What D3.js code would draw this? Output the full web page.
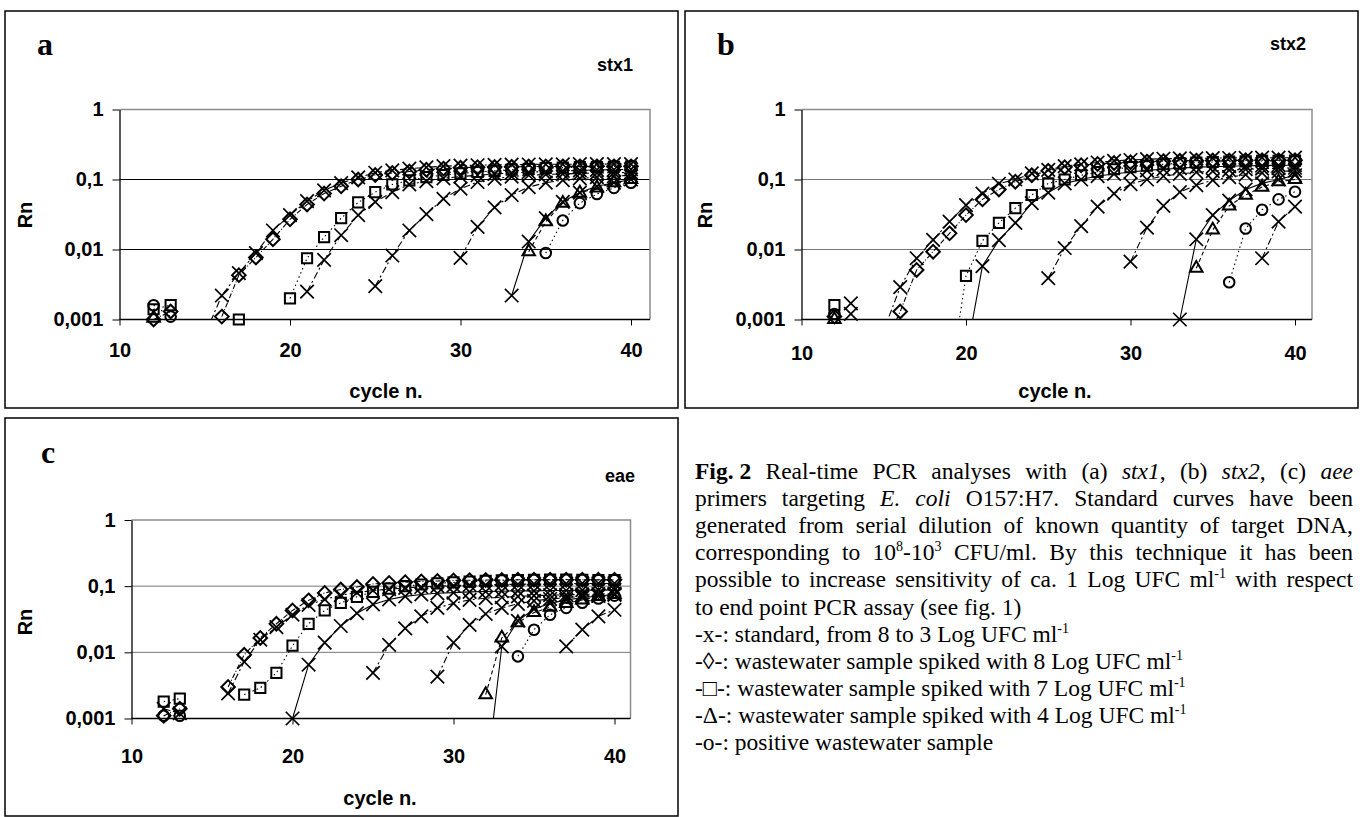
<!DOCTYPE html>
<html>
<head>
<meta charset="utf-8">
<script src="https://cdnjs.cloudflare.com/ajax/libs/d3/7.8.5/d3.min.js"></script>
<style>
  body { margin: 0; background: #fff; }
  svg { display: block; }
</style>
</head>
<body>
<svg width="1362" height="817"></svg>
<script>
const _ = null;

// cycle numbers (x categories), 11 .. 40
const cycles = [11, 12, 13, 14, 15, 16, 17, 18, 19, 20, 21, 22, 23, 24, 25, 26, 27, 28, 29, 30,
                31, 32, 33, 34, 35, 36, 37, 38, 39, 40];

const xTicks = [10, 20, 30, 40];
const yTicks = [0.001, 0.01, 0.1, 1];
const yTickLabels = ['0,001', '0,01', '0,1', '1'];

// ---- panel a : stx1 ----
//               c11 c12     c13     c14 c15     c16     c17     c18     c19     c20    c21    c22    c23    c24    c25    c26    c27    c28    c29    c30    c31   c32    c33    c34    c35    c36    c37    c38    c39    c40
const aStd8  = [_,  _,      _,      _,  0.0006, 0.0022, 0.0046, 0.0089, 0.0187, 0.031, 0.049, 0.07,  0.089, 0.107, 0.125, 0.135, 0.143, 0.149, 0.155, 0.158, 0.16, 0.162, 0.163, 0.164, 0.165, 0.165, 0.166, 0.166, 0.166, 0.166];
const aStd7  = [_,  _,      _,      _,  _,      _,      _,      _,      _,      _,     0.0025,0.0071,0.016, 0.031, 0.048, 0.066, 0.085, 0.095, 0.104, 0.11,  0.115,0.12,  0.124, 0.127, 0.13,  0.133, 0.135, 0.137, 0.138, 0.14];
const aStd6  = [_,  _,      _,      _,  _,      _,      _,      _,      _,      _,     _,     _,     _,     _,     0.003, 0.0082,0.0187,0.032, 0.053, 0.074, 0.092,0.103, 0.11,  0.115, 0.118, 0.12,  0.122, 0.124, 0.125, 0.126];
const aStd5  = [_,  _,      _,      _,  _,      _,      _,      _,      _,      _,     _,     _,     _,     _,     _,     _,     _,     _,     _,     0.0076,0.021,0.04,  0.06,  0.078, 0.09,  0.098, 0.104, 0.108, 0.112, 0.115];
const aStd4  = [_,  _,      _,      _,  _,      _,      _,      _,      _,      _,     _,     _,     _,     _,     _,     _,     _,     _,     _,     _,     _,    _,     0.0022,0.013, 0.028, 0.048, 0.065, 0.08,  0.09,  0.1];
const aDiam8 = [_,  0.001,  0.0013, _,  _,      0.0011, 0.0043, 0.0077, 0.014,  0.027, 0.044, 0.063, 0.08,  0.1,   0.116, 0.124, 0.13,  0.138, 0.143, 0.147, 0.15, 0.151, 0.152, 0.153, 0.153, 0.154, 0.154, 0.154, 0.154, 0.154];
const aSq7   = [_,  0.0014, 0.0016, _,  _,      _,      0.001,  _,      _,      0.002, 0.0075,0.015, 0.028, 0.047, 0.066, 0.085, 0.097, 0.108, 0.116, 0.122, 0.128,0.133, 0.138, 0.142, 0.146, 0.148, 0.15,  0.151, 0.152, 0.153];
const aTri4  = [_,  0.00105,_,      _,  _,      _,      _,      _,      _,      _,     _,     _,     _,     _,     _,     _,     _,     _,     _,     _,     _,    _,     _,     0.0093,0.025, 0.046, 0.064, 0.076, 0.09,  0.1];
const aCirc  = [_,  0.0016, 0.0011, _,  _,      _,      _,      _,      _,      _,     _,     _,     _,     _,     _,     _,     _,     _,     _,     _,     _,    _,     _,     _,     0.0089,0.026, 0.046, 0.062, 0.076, 0.09];

// ---- panel b : stx2 ----
const bStd8  = [_,  _,      0.0012, _,  0.0007, 0.0029, 0.0075, 0.0137, 0.025,  0.043, 0.063, 0.087, 0.1,   0.122, 0.137, 0.155, 0.165, 0.175, 0.185, 0.19,  0.195,0.198, 0.2,   0.201, 0.202, 0.203, 0.204, 0.205, 0.205, 0.205];
const bStd7  = [_,  _,      0.0017, _,  _,      _,      _,      _,      _,      0.0003,0.0058,0.0136,0.024, 0.046, 0.065, 0.088, 0.1,   0.112, 0.12,  0.128, 0.135,0.14,  0.145, 0.15,  0.152, 0.155, 0.157, 0.158, 0.16,  0.16];
const bStd6  = [_,  _,      _,      _,  _,      _,      _,      _,      _,      _,     _,     _,     _,     _,     0.0039,0.0105,0.0216,0.041, 0.063, 0.086, 0.1,  0.112, 0.12,  0.127, 0.132, 0.136, 0.14,  0.143, 0.145, 0.147];
const bStd5  = [_,  _,      _,      _,  _,      _,      _,      _,      _,      _,     _,     _,     _,     _,     _,     _,     _,     _,     _,     0.0067,0.0205,0.042,0.066, 0.083, 0.098, 0.108, 0.117, 0.124, 0.13,  0.134];
const bStd4  = [_,  _,      _,      _,  _,      _,      _,      _,      _,      _,     _,     _,     _,     _,     _,     _,     _,     _,     _,     _,     _,    _,     0.001, 0.014, 0.031, 0.05,  0.072, 0.088, 0.1,   0.115];
const bStd3  = [_,  _,      _,      _,  _,      _,      _,      _,      _,      _,     _,     _,     _,     _,     _,     _,     _,     _,     _,     _,     _,    _,     _,     _,     _,     _,     _,     0.0075,0.025, 0.041];
const bDiam8 = [_,  0.0011, _,      _,  0.0004, 0.0013, 0.0051, 0.0093, 0.017,  0.031, 0.052, 0.072, 0.093, 0.115, 0.133, 0.15,  0.16,  0.167, 0.172, 0.176, 0.18, 0.183, 0.185, 0.186, 0.187, 0.187, 0.188, 0.188, 0.188, 0.188];
const bSq7   = [_,  0.0016, _,      _,  _,      _,      _,      _,      0.00012,0.0042,0.0133,0.024, 0.039, 0.06,  0.088, 0.1,   0.115, 0.128, 0.14,  0.15,  0.158,0.165, 0.17,  0.175, 0.178, 0.18,  0.182, 0.184, 0.185, 0.186];
const bTri4  = [_,  0.001,  _,      _,  _,      _,      _,      _,      _,      _,     _,     _,     _,     _,     _,     _,     _,     _,     _,     _,     _,    _,     _,     0.0054,0.019, 0.042, 0.06,  0.078, 0.093, 0.1];
const bCirc  = [_,  0.0012, _,      _,  _,      _,      _,      _,      _,      _,     _,     _,     _,     _,     _,     _,     _,     _,     _,     _,     _,    _,     _,     _,     _,     0.0034,0.02,  0.037, 0.052, 0.067];

// ---- panel c : eae ----
const cStd8  = [_,  0.0014, 0.0012, _,  _,      0.0024, 0.0072, 0.0155, 0.024,  0.037, 0.052, 0.063, 0.073, 0.08,  0.086, 0.09,  0.094, 0.097, 0.1,   0.102, 0.104,0.105, 0.106, 0.107, 0.108, 0.108, 0.109, 0.11,  0.11,  0.11];
const cStd7  = [_,  _,      _,      _,  _,      _,      _,      _,      _,      0.001, 0.0065,0.014, 0.025, 0.039, 0.053, 0.063, 0.07,  0.075, 0.078, 0.08,  0.082,0.083, 0.084, 0.085, 0.085, 0.086, 0.086, 0.087, 0.087, 0.088];
const cStd6  = [_,  _,      _,      _,  _,      _,      _,      _,      _,      _,     _,     _,     _,     _,     0.0049,0.013, 0.023, 0.035, 0.047, 0.055, 0.062,0.066, 0.068, 0.07,  0.072, 0.073, 0.074, 0.075, 0.076, 0.077];
const cStd5  = [_,  _,      _,      _,  _,      _,      _,      _,      _,      _,     _,     _,     _,     _,     _,     _,     _,     _,     0.0043,0.014, 0.026,0.038, 0.047, 0.054, 0.06,  0.064, 0.067, 0.07,  0.072, 0.074];
const cStd4  = [_,  _,      _,      _,  _,      _,      _,      _,      _,      _,     _,     _,     _,     _,     _,     _,     _,     _,     _,     _,     _,    0.0001,0.0123,0.03,  0.045, 0.055, 0.062, 0.067, 0.071, 0.075];
const cStd3  = [_,  _,      _,      _,  _,      _,      _,      _,      _,      _,     _,     _,     _,     _,     _,     _,     _,     _,     _,     _,     _,    _,     _,     _,     _,     _,     0.0123,0.022, 0.035, 0.044];
const cDiam8 = [_,  0.0011, 0.0014, _,  _,      0.003,  0.0092, 0.0165, 0.027,  0.043, 0.061, 0.079, 0.089, 0.097, 0.108, 0.112, 0.115, 0.118, 0.12,  0.122, 0.123,0.124, 0.124, 0.125, 0.125, 0.125, 0.125, 0.125, 0.125, 0.125];
const cSq7   = [_,  0.0018, 0.002,  _,  _,      _,      0.0023, 0.0029, 0.0049, 0.0126,0.027, 0.043, 0.056, 0.069, 0.082, 0.092, 0.1,   0.106, 0.11,  0.114, 0.117,0.12,  0.123, 0.124, 0.125, 0.126, 0.126, 0.125, 0.124, 0.124];
const cTri4  = [_,  _,      _,      _,  _,      _,      _,      _,      _,      _,     _,     _,     _,     _,     _,     _,     _,     _,     _,     _,     _,    0.0023,0.0165,0.028, 0.04,  0.048, 0.055, 0.062, 0.07,  0.075];
const cCirc  = [_,  0.0011, 0.0011, _,  _,      _,      _,      _,      _,      _,     _,     _,     _,     _,     _,     _,     _,     _,     _,     _,     _,    _,     _,     0.0087,0.022, 0.037, 0.047, 0.056, 0.065, 0.072];

const captionLines = [
  { justify: true, text: '**Fig.\u00a02** Real-time PCR analyses with (a) *stx1*, (b) *stx2*, (c) *aee*' },
  { justify: true, text: 'primers targeting *E.* *coli* O157:H7. Standard curves have been' },
  { justify: true, text: 'generated from serial dilution of known quantity of target DNA,' },
  { justify: true, text: 'corresponding to 10^8^-10^3^ CFU/ml. By this technique it has been' },
  { justify: true, text: 'possible to increase sensitivity of ca. 1 Log UFC ml^-1^ with respect' },
  { justify: false, text: 'to end point PCR assay (see fig. 1)' },
  { justify: false, text: '-x-: standard, from 8 to 3 Log UFC ml^-1^' },
  { justify: false, text: '-\u25CA-: wastewater sample spiked with 8 Log UFC ml^-1^' },
  { justify: false, text: '-\u25A1-: wastewater sample spiked with 7 Log UFC ml^-1^' },
  { justify: false, text: '-\u0394-: wastewater sample spiked with 4 Log UFC ml^-1^' },
  { justify: false, text: '-o-: positive wastewater sample' }
];

// ---- styles ----
const SANS = '"Liberation Sans", Arial, Helvetica, sans-serif';
const SERIF = '"Liberation Serif", "Times New Roman", Times, serif';
const DASH_STD = '7,3,2,3';
const DASH_DIA = '5,2,1,2';
const DASH_SQ = '1.5,3';
const DASH_TRI = '4,3';
const DASH_CIR = '1.5,3';

const markers = {
  x:   d3.symbol(d3.symbolX, 120),
  dia: d3.symbol(d3.symbolDiamond2, 118),
  sq:  d3.symbol(d3.symbolSquare2, 132),
  tri: d3.symbol(d3.symbolTriangle2, 112),
  cir: d3.symbol(d3.symbolCircle, 88)
};

const panels = [
  { key: 'a', gene: 'stx1', frame: [5, 11, 673, 397],
    x10: 119.5, x40: 631, right: 650, top: 109.5, bottom: 319.5, grid: '#000',
    xLabBase: 37.5, cycleX: 386, cycleY: 398, rnX: 25, rnY: 215,
    letterX: 37, letterY: 55, geneX: 633, geneY: 71,
    series: [
      { v: aStd8, m: 'x', dash: DASH_STD }, { v: aStd7, m: 'x', dash: DASH_STD },
      { v: aStd6, m: 'x', dash: DASH_STD }, { v: aStd5, m: 'x', dash: DASH_STD },
      { v: aStd4, m: 'x', dash: null },
      { v: aDiam8, m: 'dia', dash: DASH_DIA }, { v: aSq7, m: 'sq', dash: DASH_SQ },
      { v: aTri4, m: 'tri', dash: DASH_TRI }, { v: aCirc, m: 'cir', dash: DASH_CIR }
    ] },
  { key: 'b', gene: 'stx2', frame: [685, 11, 673, 397],
    x10: 801.5, x40: 1295, right: 1312, top: 109.5, bottom: 319.5, grid: '#777',
    xLabBase: 40.5, cycleX: 1055, cycleY: 398, rnX: 705, rnY: 215,
    letterX: 717, letterY: 55, geneX: 1306, geneY: 50,
    series: [
      { v: bStd8, m: 'x', dash: DASH_STD }, { v: bStd7, m: 'x', dash: null },
      { v: bStd6, m: 'x', dash: DASH_STD }, { v: bStd5, m: 'x', dash: DASH_STD },
      { v: bStd4, m: 'x', dash: null }, { v: bStd3, m: 'x', dash: DASH_STD },
      { v: bDiam8, m: 'dia', dash: DASH_DIA }, { v: bSq7, m: 'sq', dash: DASH_SQ },
      { v: bTri4, m: 'tri', dash: DASH_TRI }, { v: bCirc, m: 'cir', dash: DASH_CIR }
    ] },
  { key: 'c', gene: 'eae', frame: [5, 418, 673, 398],
    x10: 131.5, x40: 614.5, right: 630.5, top: 520, bottom: 718.5, grid: '#777',
    xLabBase: 44.5, cycleX: 380, cycleY: 805, rnX: 25, rnY: 622,
    letterX: 41, letterY: 463, geneX: 635, geneY: 482,
    series: [
      { v: cStd8, m: 'x', dash: DASH_STD }, { v: cStd7, m: 'x', dash: null },
      { v: cStd6, m: 'x', dash: DASH_STD }, { v: cStd5, m: 'x', dash: DASH_STD },
      { v: cStd4, m: 'x', dash: null }, { v: cStd3, m: 'x', dash: DASH_STD },
      { v: cDiam8, m: 'dia', dash: DASH_DIA }, { v: cSq7, m: 'sq', dash: DASH_SQ },
      { v: cTri4, m: 'tri', dash: DASH_TRI }, { v: cCirc, m: 'cir', dash: DASH_CIR }
    ] }
];

const svg = d3.select('svg');
const defs = svg.append('defs');

panels.forEach(p => {
  const g = svg.append('g').attr('class', 'panel-' + p.key);
  const x = d3.scaleLinear().domain([10, 40]).range([p.x10, p.x40]);
  const y = d3.scaleLog().domain([0.001, 1]).range([p.bottom, p.top]);

  // outer frame
  g.append('rect')
    .attr('x', p.frame[0]).attr('y', p.frame[1])
    .attr('width', p.frame[2]).attr('height', p.frame[3])
    .attr('fill', 'none').attr('stroke', '#000').attr('stroke-width', 1.5);

  // gridlines
  g.selectAll('.grid').data([0.01, 0.1]).join('line')
    .attr('x1', p.x10).attr('x2', p.right)
    .attr('y1', d => y(d)).attr('y2', d => y(d))
    .attr('stroke', p.grid).attr('stroke-width', 1);

  // plot border (top and right)
  g.append('path')
    .attr('d', `M${p.x10},${y(1)}H${p.right}V${y(0.001)}`)
    .attr('fill', 'none').attr('stroke', '#8c8c8c').attr('stroke-width', 1.5);

  // y axis
  const ya = g.append('g')
    .attr('transform', `translate(${p.x10},0)`)
    .call(d3.axisLeft(y).tickValues(yTicks).tickFormat((d, i) => yTickLabels[i])
      .tickSize(7).tickSizeOuter(0).tickPadding(9));
  ya.attr('font-size', 20).attr('font-family', SANS).attr('font-weight', 'bold');
  ya.select('.domain').attr('stroke-width', 1.3);

  // x axis
  const xa = g.append('g')
    .attr('transform', `translate(0,${p.bottom})`)
    .call(d3.axisBottom(x).tickValues(xTicks).tickFormat(d3.format('d'))
      .tickSize(6).tickPadding(p.xLabBase - 6 - 14.2));
  xa.attr('font-size', 20).attr('font-family', SANS).attr('font-weight', 'bold');
  xa.select('.domain').remove();
  g.append('line')
    .attr('x1', p.x10).attr('x2', p.right)
    .attr('y1', p.bottom).attr('y2', p.bottom)
    .attr('stroke', '#000').attr('stroke-width', 1.3);

  // axis titles
  g.append('text')
    .attr('x', p.cycleX).attr('y', p.cycleY)
    .attr('text-anchor', 'middle')
    .attr('font-family', SANS).attr('font-weight', 'bold').attr('font-size', 20)
    .text('cycle n.');
  g.append('text')
    .attr('transform', `translate(${p.rnX},${p.rnY}) rotate(-90)`)
    .attr('text-anchor', 'middle').attr('dy', '0.35em')
    .attr('font-family', SANS).attr('font-weight', 'bold').attr('font-size', 20)
    .text('Rn');

  // panel letter and gene name
  g.append('text')
    .attr('x', p.letterX).attr('y', p.letterY)
    .attr('font-family', SERIF).attr('font-weight', 'bold').attr('font-size', 32)
    .text(p.key);
  g.append('text')
    .attr('x', p.geneX).attr('y', p.geneY)
    .attr('text-anchor', 'end')
    .attr('font-family', SANS).attr('font-weight', 'bold').attr('font-size', 18)
    .text(p.gene);

  // series lines, clipped to plot area
  const clipId = 'clip-' + p.key;
  defs.append('clipPath').attr('id', clipId)
    .append('rect')
      .attr('x', p.x10).attr('y', p.top)
      .attr('width', p.right - p.x10).attr('height', p.bottom - p.top);

  const line = d3.line()
    .defined(d => d[1] != null)
    .x(d => x(d[0]))
    .y(d => y(d[1]));

  const lineG = g.append('g').attr('clip-path', `url(#${clipId})`);
  p.series.forEach(s => {
    const pts = cycles.map((c, i) => [c, s.v[i]]);
    lineG.append('path')
      .attr('d', line(pts))
      .attr('fill', 'none')
      .attr('stroke', '#000')
      .attr('stroke-width', 1.1)
      .attr('stroke-dasharray', s.dash);
  });

  // markers
  const markG = g.append('g');
  p.series.forEach(s => {
    const pts = cycles.map((c, i) => [c, s.v[i]]).filter(d => d[1] != null && d[1] >= 0.00099);
    markG.selectAll(null).data(pts).join('path')
      .attr('transform', d => `translate(${x(d[0])},${y(d[1])})`)
      .attr('d', markers[s.m]())
      .attr('fill', 'none')
      .attr('stroke', '#000')
      .attr('stroke-width', s.m === 'x' ? 1.7 : 2);
  });
});

// ---- caption (justified paragraph + legend) ----
const capLeft = 695, capRight = 1353, capBase0 = 479, capStep = 27.1, capSize = 23.5;
const cap = svg.append('g')
  .attr('font-family', SERIF)
  .attr('font-size', capSize)
  .attr('fill', '#000');
const segRe = /\*\*(.+?)\*\*|\*(.+?)\*|\^(.+?)\^|([^*^]+)/g;

captionLines.forEach((ln, li) => {
  const yb = capBase0 + li * capStep;
  const words = ln.text.split(' ');
  const nodes = words.map(w => {
    const t = cap.append('text').attr('y', yb);
    let shift = 0;
    for (const m of w.matchAll(segRe)) {
      const ts = t.append('tspan');
      if (m[3]) {
        ts.attr('font-size', 14).attr('dy', -9).text(m[3]);
        shift = 9;
        continue;
      }
      if (m[1]) ts.attr('font-weight', 'bold').text(m[1]);
      else if (m[2]) ts.attr('font-style', 'italic').text(m[2]);
      else ts.text(m[4]);
      if (shift) { ts.attr('dy', shift); shift = 0; }
    }
    return t;
  });
  const widths = nodes.map(n => n.node().getComputedTextLength());
  const gap = ln.justify
    ? (capRight - capLeft - d3.sum(widths)) / (words.length - 1)
    : capSize * 0.25;
  let cx = capLeft;
  nodes.forEach((n, i) => { n.attr('x', cx); cx += widths[i] + gap; });
});
</script>
</body>
</html>
